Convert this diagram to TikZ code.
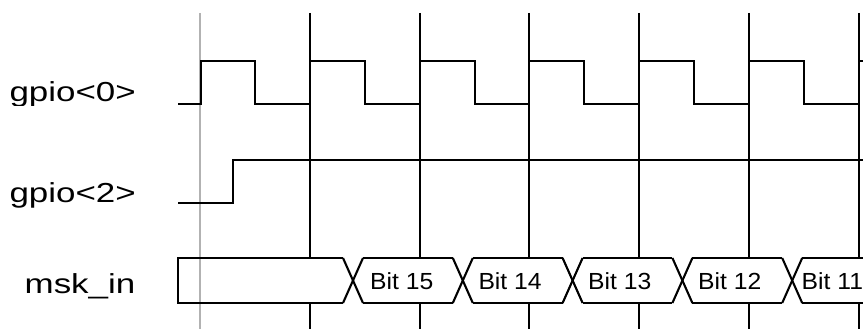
\documentclass[tikz,border=0pt]{standalone}
\usepackage{fontspec}
\setmainfont{Liberation Sans}
\begin{document}
\begin{tikzpicture}[x=1pt,y=-1pt,
  sig/.style={line width=2.1pt,black,line join=miter},
  gridline/.style={line width=2.1pt,black},
  refline/.style={line width=2.6pt,black!30},
  lbl/.style={font=\fontsize{27.5}{30}\selectfont,anchor=base east,inner sep=0pt},
  bitlbl/.style={font=\fontsize{23.3}{26}\selectfont,anchor=base west,inner sep=0pt}]
\useasboundingbox (0,0) rectangle (863,329);
% grid lines
\foreach \k in {1,...,6}
  \draw[gridline] ({200+109.8*\k},13) -- ({200+109.8*\k},329);
% bus white fill
\fill[white] (178,258) -- (343,258) -- (353,280.5) -- (343,303) -- (178,303) -- cycle;
\foreach \k in {0,...,3}
  \fill[white] ({363+109.8*\k},258) -- ({342.8+109.8*(\k+1)},258) -- ({352.8+109.8*(\k+1)},280.5)
     -- ({342.8+109.8*(\k+1)},303) -- ({363+109.8*\k},303) -- ({353+109.8*\k},280.5) -- cycle;
\fill[white] (792.2,280.5) -- (802.2,258) -- (864,258) -- (864,303) -- (802.2,303) -- cycle;
% reference line
\draw[refline] (200,13) -- (200,329);
% gpio<0>
\draw[sig] (178,104) -| (201,61) -| (255,104) -| (309.8,61) -| (364.8,104) -| (419.6,61)
  -| (474.6,104) -| (529.4,61) -| (584.4,104) -| (639.2,61) -| (694.2,104) -| (749,61)
  -| (804,104) -| (858.8,61) -- (864,61);
% gpio<2>
\draw[sig] (178,203) -| (233,160) -- (864,160);
% bus outline
\draw[sig] (343,258) -- (178,258) -- (178,303) -- (343,303);
\foreach \k in {0,...,4} {
  \draw[sig] ({343+109.8*\k},258) -- ({363+109.8*\k},303);
  \draw[sig] ({343+109.8*\k},303) -- ({363+109.8*\k},258);
}
\foreach \k in {0,...,3} {
  \draw[sig] ({363+109.8*\k},258) -- ({343+109.8*(\k+1)},258);
  \draw[sig] ({363+109.8*\k},303) -- ({343+109.8*(\k+1)},303);
}
\draw[sig] (802.2,258) -- (864,258);
\draw[sig] (802.2,303) -- (864,303);
% labels
\begin{scope}
  \clip (0,0) rectangle (170,105.5);
  \node[lbl] (g0) at (136,102) {\scalebox{1.27}[1]{gpio<0>}};
\end{scope}
\node[lbl] (g2) at (136,202.7) {\scalebox{1.27}[1]{gpio<2>}};
\node[lbl] (msk) at (135.5,293.3) {\scalebox{1.27}[1]{msk\_in}};
\node[bitlbl] (b15) at (370,289.3) {\scalebox{1.06}[1]{Bit 15}};
\node[bitlbl] (b14) at (478.3,289.3) {\scalebox{1.06}[1]{Bit 14}};
\node[bitlbl] (b13) at (588,289.3) {\scalebox{1.06}[1]{Bit 13}};
\node[bitlbl] (b12) at (698,289.3) {\scalebox{1.06}[1]{Bit 12}};
\node[bitlbl] (b11) at (801.5,289.3) {\scalebox{1.06}[1]{Bit 11}};
\end{tikzpicture}
\end{document}
